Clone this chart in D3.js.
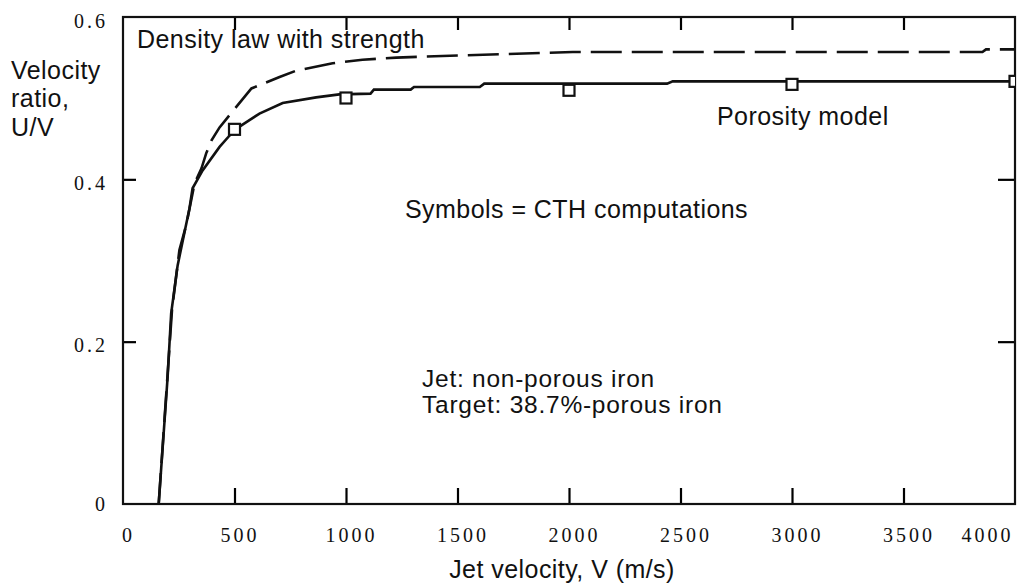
<!DOCTYPE html>
<html>
<head>
<meta charset="utf-8">
<script src="https://cdn.jsdelivr.net/npm/d3@7"></script>
<style>
  body { margin: 0; background: #fff; }
  .tick text { font-family: "Liberation Serif", "Times New Roman", serif; font-size: 20px; letter-spacing: 3px; fill: #111; }
  .lbl { font-family: "Liberation Sans", Arial, sans-serif; font-size: 25px; letter-spacing: 0.45px; fill: #111; }
</style>
</head>
<body>
<svg width="1020" height="584"></svg>
<script>
var width = 1020,
    height = 584,
    plotLeft = 123, plotRight = 1015, plotTop = 17, plotBottom = 504;

// porosity model (solid line), V in m/s vs U/V
var porosityV = [160, 200, 216, 245, 298, 312, 357, 433, 478, 504, 567, 612, 716, 866, 970, 1110, 1125, 1290, 1305, 1600, 1620, 2440, 2465, 4000];
var porosityU = [0, .156, .235, .294, .364, .389, .411, .44, .454, .4616, .473, .481, .494, .501, .5047, .5056, .5105, .5105, .5137, .5137, .5179, .5179, .5207, .5207];

// density law with strength (dashed line)
var densityV = [160, 200, 220, 253, 283, 321, 352, 373, 397, 433, 531, 576, 702, 778, 940, 1074, 1226, 1522, 2017, 3854, 3870, 4000];
var densityU = [0, .16, .24, .313, .343, .395, .4136, .432, .448, .464, .497, .512, .526, .534, .543, .5474, .55, .5527, .5568, .5568, .5601, .5601];

// CTH computations (squares)
var cthV = [500, 1000, 2000, 3000, 4000];
var cthU = [.4616, .5002, .5097, .517, .5207];

var xTicks = [0, 500, 1000, 1500, 2000, 2500, 3000, 3500, 4000];
var yTicks = [0, .2, .4, .6];

var svg = d3.select("svg");

var x = d3.scaleLinear().domain([0, 4000]).range([plotLeft, plotRight]);
var y = d3.scaleLinear().domain([0, .6]).range([plotBottom, plotTop]);

svg.append("clipPath").attr("id", "plot")
  .append("rect").attr("x", plotLeft).attr("y", plotTop).attr("width", plotRight - plotLeft).attr("height", plotBottom - plotTop);

// axes with inward ticks
var inner = xTicks.slice(1, -1);
svg.append("g").attr("transform", "translate(0," + plotBottom + ")")
    .call(d3.axisBottom(x).tickValues(xTicks).tickSize(-16).tickPadding(24).tickFormat(d3.format("d")))
    .call(function(g) {
      g.select(".domain").remove();
      g.selectAll(".tick line").attr("stroke-width", 2.2).attr("y2", function(d) { return inner.indexOf(d) < 0 ? 0 : -16; });
      g.selectAll(".tick text").attr("font-family", null).attr("font-size", null)
        .attr("dx", function(d) { return d == 4000 ? -28 : 5; });
    });

svg.append("g").attr("transform", "translate(0," + plotTop + ")")
    .call(d3.axisTop(x).tickValues(inner).tickSize(-13).tickFormat(""))
    .call(function(g) {
      g.select(".domain").remove();
      g.selectAll(".tick line").attr("stroke-width", 2.2);
    });

svg.append("g").attr("transform", "translate(" + plotLeft + ",0)")
    .call(d3.axisLeft(y).tickValues(yTicks).tickSize(-13).tickPadding(15).tickFormat(function(d) { return d ? d3.format(".1f")(d) : "0"; }))
    .call(function(g) {
      g.select(".domain").remove();
      g.selectAll(".tick line").attr("stroke-width", 2.2).attr("x2", function(d) { return d == 0 || d == .6 ? 0 : 13; });
      g.selectAll(".tick text").attr("font-family", null).attr("font-size", null)
        .attr("dy", function(d) { return d == 0 ? "0.32em" : "0.5em"; });
    });

svg.append("g").attr("transform", "translate(" + plotRight + ",0)")
    .call(d3.axisRight(y).tickValues([.2, .4]).tickSize(-17).tickFormat(""))
    .call(function(g) {
      g.select(".domain").remove();
      g.selectAll(".tick line").attr("stroke-width", 2.2);
    });

svg.append("rect")
    .attr("x", plotLeft).attr("y", plotTop).attr("width", plotRight - plotLeft).attr("height", plotBottom - plotTop)
    .attr("fill", "none").attr("stroke", "#111").attr("stroke-width", 2.2);

var line = d3.line().x(function(d) { return x(d[0]); }).y(function(d) { return y(d[1]); });
var plot = svg.append("g").attr("clip-path", "url(#plot)");

plot.append("path")
    .datum(d3.zip(densityV, densityU))
    .attr("d", line)
    .attr("fill", "none").attr("stroke", "#111").attr("stroke-width", 2.6)
    .attr("stroke-dasharray", "31,10");

plot.append("path")
    .datum(d3.zip(porosityV, porosityU))
    .attr("d", line)
    .attr("fill", "none").attr("stroke", "#111").attr("stroke-width", 2.6);

var s = 11;
plot.selectAll("rect.cth")
    .data(d3.zip(cthV, cthU))
  .enter().append("rect").attr("class", "cth")
    .attr("x", function(d) { return x(d[0]) - s / 2; })
    .attr("y", function(d) { return y(d[1]) - s / 2; })
    .attr("width", s).attr("height", s)
    .attr("fill", "#fff").attr("stroke", "#111").attr("stroke-width", 2.2);

// labels
function label(t, px, py, fs, ls) {
  svg.append("text").attr("class", "lbl").attr("x", px).attr("y", py)
    .style("font-size", fs ? fs + "px" : null)
    .style("letter-spacing", ls ? ls + "px" : null).text(t);
}
label("Density law with strength", 137, 48);
label("Porosity model", 717, 125);
label("Symbols = CTH computations", 405, 218);
label("Jet: non-porous iron", 422, 387, 24.5, 0.75);
label("Target: 38.7%-porous iron", 422, 413, 24.5, 0.75);
label("Velocity", 11, 79);
label("ratio,", 11, 107);
label("U/V", 11, 136);
svg.append("text").attr("class", "lbl").attr("x", 562).attr("y", 578)
    .attr("text-anchor", "middle").text("Jet velocity, V (m/s)");
</script>
</body>
</html>
